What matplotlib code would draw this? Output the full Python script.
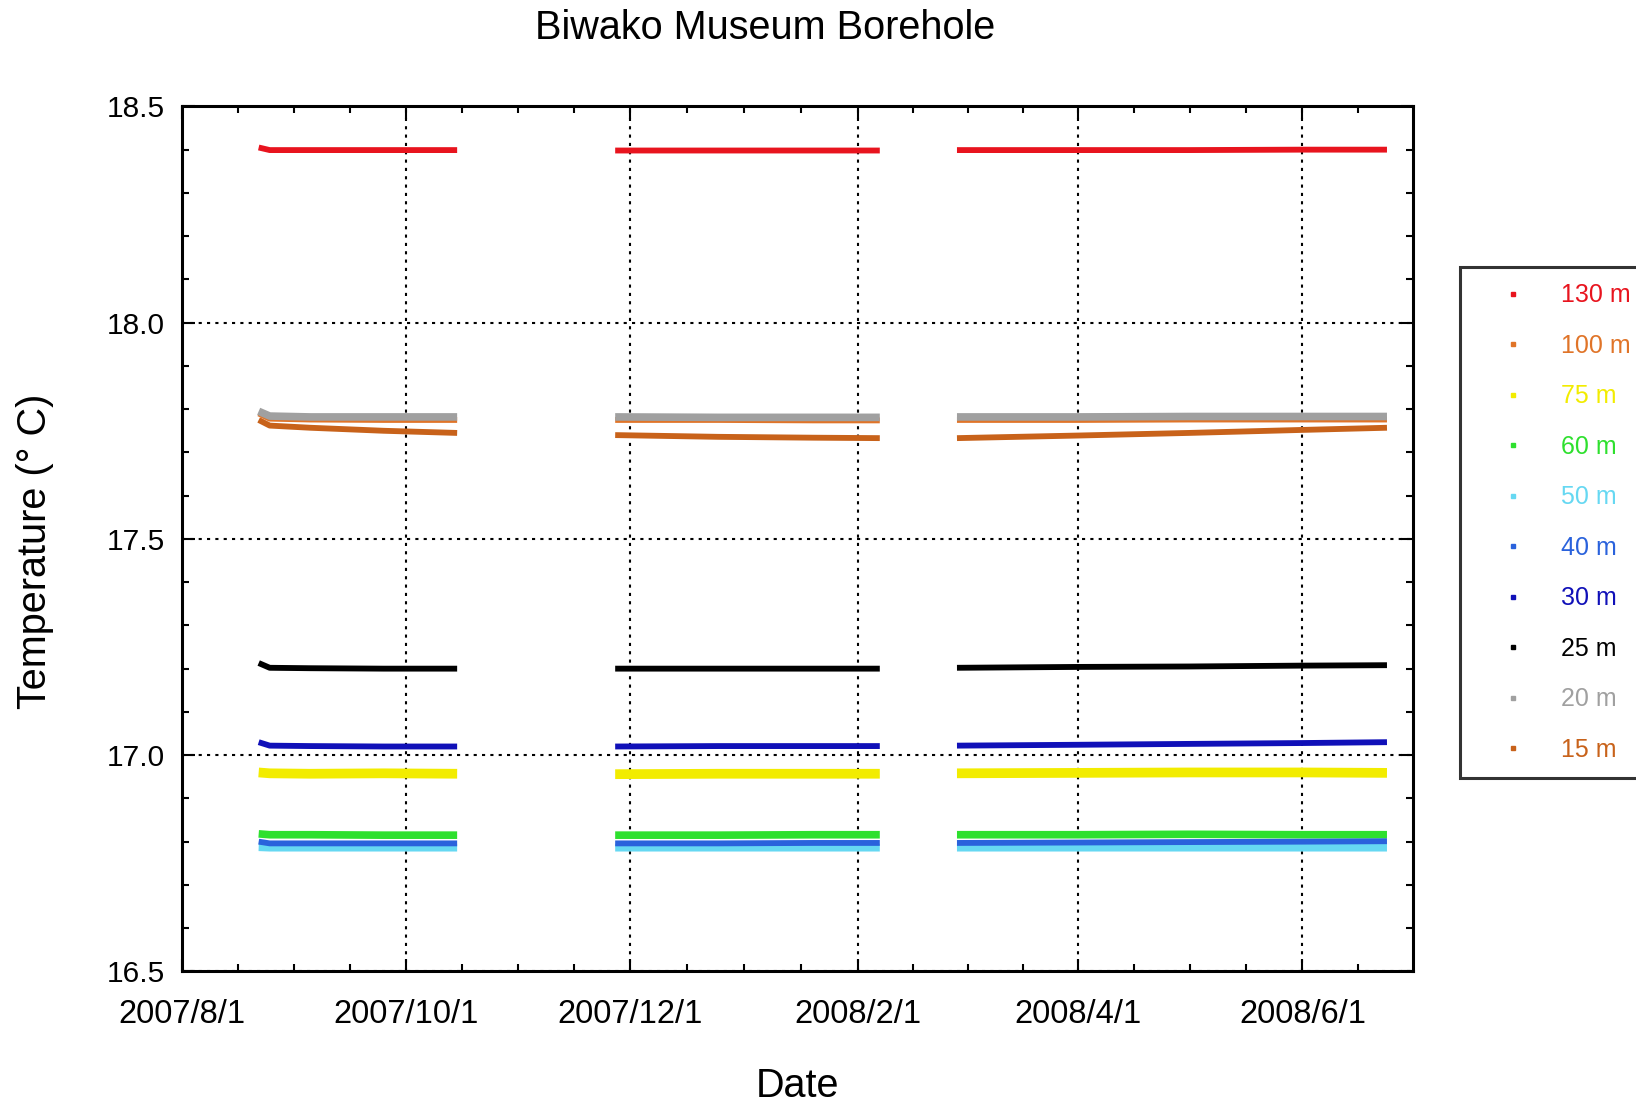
import numpy as np
import matplotlib
matplotlib.use("Agg")
import matplotlib.pyplot as plt
import matplotlib.dates as mdates
from matplotlib.lines import Line2D
from matplotlib.ticker import FixedLocator, MultipleLocator
import datetime as dt

plt.rcParams["font.family"] = ["Liberation Sans", "DejaVu Sans"]

nan = np.nan

# fechas de muestreo (NaN = hueco entre campañas)
dates = ["2007-08-22", "2007-08-25", "2007-09-05", "2007-09-25", "2007-10-15",
         "2007-11-05",
         "2007-11-27", "2007-12-25", "2008-01-20", "2008-02-07",
         "2008-02-18",
         "2008-02-28", "2008-04-01", "2008-05-01", "2008-06-01", "2008-06-24"]

depths = ["130 m", "100 m", "75 m", "60 m", "50 m", "40 m", "30 m", "25 m", "20 m", "15 m"]

t130 = [18.405, 18.399, 18.399, 18.399, 18.399, nan, 18.398, 18.398, 18.398, 18.398, nan,
        18.399, 18.399, 18.399, 18.400, 18.400]
t100 = [17.790, 17.778, 17.776, 17.775, 17.775, nan, 17.775, 17.775, 17.774, 17.774, nan,
        17.775, 17.775, 17.776, 17.776, 17.776]
t75 = [16.960, 16.958, 16.957, 16.958, 16.957, nan, 16.956, 16.957, 16.957, 16.957, nan,
       16.958, 16.959, 16.960, 16.960, 16.959]
t60 = [16.818, 16.816, 16.816, 16.815, 16.815, nan, 16.815, 16.815, 16.816, 16.816, nan,
       16.816, 16.816, 16.817, 16.816, 16.816]
t50 = [16.787, 16.786, 16.786, 16.786, 16.786, nan, 16.786, 16.786, 16.786, 16.786, nan,
       16.786, 16.786, 16.786, 16.786, 16.786]
t40 = [16.800, 16.796, 16.796, 16.796, 16.796, nan, 16.796, 16.796, 16.797, 16.797, nan,
       16.797, 16.798, 16.799, 16.800, 16.801]
t30 = [17.030, 17.022, 17.021, 17.020, 17.020, nan, 17.020, 17.021, 17.021, 17.021, nan,
       17.022, 17.024, 17.026, 17.028, 17.030]
t25 = [17.213, 17.202, 17.201, 17.200, 17.200, nan, 17.200, 17.200, 17.200, 17.200, nan,
       17.202, 17.204, 17.205, 17.207, 17.208]
t20 = [17.795, 17.784, 17.782, 17.782, 17.782, nan, 17.782, 17.781, 17.781, 17.781, nan,
       17.782, 17.782, 17.783, 17.783, 17.783]
t15 = [17.775, 17.762, 17.757, 17.750, 17.745, nan, 17.740, 17.736, 17.734, 17.733, nan,
       17.733, 17.739, 17.745, 17.752, 17.757]

series = [t130, t100, t75, t60, t50, t40, t30, t25, t20, t15]
colors = ["#E8141E", "#E07428", "#F2EC00", "#2EE02E", "#66D8F2",
          "#2A62DC", "#1010B8", "#000000", "#A0A0A0", "#C8621A"]
widths = [4.2, 4.2, 7, 5.5, 5.5, 4.2, 4.2, 4.2, 5.5, 4.2]

major_dates = ["2007-08-01", "2007-10-01", "2007-12-01", "2008-02-01",
               "2008-04-01", "2008-06-01"]

x = [dt.datetime.strptime(d, "%Y-%m-%d") for d in dates]
majors = [mdates.date2num(dt.datetime.strptime(d, "%Y-%m-%d")) for d in major_dates]
edges = majors + [mdates.date2num(dt.datetime(2008, 8, 1))]
minors = []
for a, b in zip(edges[:-1], edges[1:]):
    minors.extend(np.linspace(a, b, 5)[1:4])

fig = plt.figure(figsize=(16.36, 11.03), dpi=100)
ax = fig.add_axes([181.5 / 1636, 1 - 971.4 / 1103, (1412.7 - 181.5) / 1636, (971.4 - 106.4) / 1103])

for y, c, w in zip(series, colors, widths):
    ax.plot(x, y, color=c, lw=w, solid_capstyle="butt")

ax.set_xlim(dt.datetime(2007, 8, 1), dt.datetime(2008, 7, 1))
ax.set_ylim(16.5, 18.5)
ax.xaxis.set_major_locator(FixedLocator(majors))
ax.xaxis.set_minor_locator(FixedLocator(minors))
ax.xaxis.set_major_formatter(plt.FuncFormatter(
    lambda v, p: "{d.year}/{d.month}/{d.day}".format(d=mdates.num2date(v))))
ax.yaxis.set_major_locator(MultipleLocator(0.5))
ax.yaxis.set_minor_locator(MultipleLocator(0.1))
ax.yaxis.set_major_formatter(plt.FormatStrFormatter("%.1f"))

ax.tick_params(which="both", direction="in", top=True, right=True, width=1.5)
ax.tick_params(which="major", length=9)
ax.tick_params(which="minor", length=5)
ax.tick_params(axis="x", pad=20, labelsize=23.5)
ax.tick_params(axis="y", pad=12, labelsize=21.5)
for s in ax.spines.values():
    s.set_linewidth(2.2)
ax.grid(True, which="major", color="black", linestyle=(0, (1.5, 2.5)), linewidth=1.5)

fig.text(765 / 1636, 1 - 39 / 1103, "Biwako Museum Borehole", fontsize=28.5,
         ha="center", va="baseline")
fig.text(797.5 / 1636, 1 - 1097 / 1103, "Date", fontsize=28.5, ha="center", va="baseline")
fig.text(35 / 1636, 1 - 551 / 1103, "Temperature (° C)", fontsize=28.5, rotation=90,
         ha="center", va="center")

handles = [Line2D([], [], color=c, marker="s", ms=2.5, ls="none") for c in colors]
leg = fig.legend(handles, depths, loc="upper left",
                 bbox_to_anchor=(1460 / 1636, 1 - 267 / 1103), borderaxespad=0,
                 fontsize=18, frameon=True, fancybox=False, borderpad=0.65,
                 handlelength=2.9, handletextpad=0.5, labelspacing=1.06,
                 labelcolor=colors)
leg.get_frame().set_edgecolor("black")
leg.get_frame().set_linewidth(2.2)

fig.savefig("out.png", dpi=100)
